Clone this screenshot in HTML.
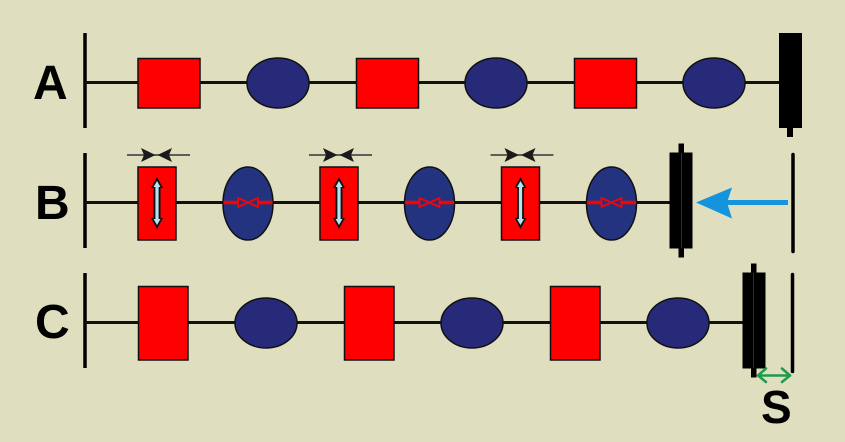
<!DOCTYPE html>
<html><head><meta charset="utf-8"><style>
html,body{margin:0;padding:0;background:#dfdfc0;}
svg{display:block;}
text{font-family:"Liberation Sans",sans-serif;font-weight:bold;fill:#000;}
</style></head><body>
<svg width="845" height="442" viewBox="0 0 845 442" xmlns="http://www.w3.org/2000/svg">
<defs>
<g id="rb1">
<line x1="-11" y1="155" x2="52" y2="155" stroke="#333" stroke-width="1.5"/>
<polygon points="3,148 17.5,155 3,162 6,155" fill="#1a1a1a"/>
<polygon points="34,148 19.5,155 34,162 31,155" fill="#1a1a1a"/>
<rect x="0" y="167" width="38" height="73" fill="#ff0000" stroke="#111" stroke-width="1.5"/>
<polygon points="19,177 25,188 22.5,188 22.5,218 25,218 19,229 13,218 15.5,218 15.5,188 13,188" fill="#111"/>
<polygon points="19,181 22.5,187 20.6,187 20.6,219 22.5,219 19,225 15.5,219 17.4,219 17.4,187 15.5,187" fill="#b5e3ef"/>
</g>
<g id="eb">
<ellipse cx="0" cy="203.5" rx="25" ry="36.5" fill="#233380" stroke="#111" stroke-width="1.5"/>
<line x1="-24.5" y1="202.5" x2="-10" y2="202.5" stroke="#ff0000" stroke-width="3.5"/>
<line x1="10" y1="202.5" x2="24.5" y2="202.5" stroke="#ff0000" stroke-width="3.5"/>
<polygon points="-10,198 0,202.5 -10,207" fill="#233380" stroke="#ff0000" stroke-width="1.8" stroke-linejoin="round"/>
<polygon points="10,198 0,202.5 10,207" fill="#233380" stroke="#ff0000" stroke-width="1.8" stroke-linejoin="round"/>
</g>
</defs>
<rect width="845" height="442" fill="#dfdfc0"/>
<!-- Row A -->
<text x="33" y="99" font-size="48">A</text>
<line x1="85" y1="33" x2="85" y2="128" stroke="#000" stroke-width="3.5"/>
<line x1="85" y1="82.5" x2="780" y2="82.5" stroke="#111" stroke-width="3"/>
<g stroke="#111" stroke-width="1.5">
<rect x="138" y="58.5" width="62" height="49.5" fill="#ff0000"/>
<ellipse cx="278" cy="83" rx="31" ry="25" fill="#272a78"/>
<rect x="356.5" y="58.5" width="62" height="49.5" fill="#ff0000"/>
<ellipse cx="496" cy="83" rx="31" ry="25" fill="#272a78"/>
<rect x="574.5" y="58.5" width="62" height="49.5" fill="#ff0000"/>
<ellipse cx="714" cy="83" rx="31" ry="25" fill="#272a78"/>
</g>
<rect x="779" y="33" width="23" height="95" fill="#000"/>
<rect x="787" y="127" width="6" height="10" fill="#000"/>

<!-- Row B -->
<text x="35" y="219" font-size="48">B</text>
<line x1="85" y1="153" x2="85" y2="248" stroke="#000" stroke-width="3.5"/>
<line x1="85" y1="202.5" x2="672" y2="202.5" stroke="#111" stroke-width="3"/>

<use href="#rb1" transform="translate(138,0)"/>
<use href="#rb1" transform="translate(320,0)"/>
<use href="#rb1" transform="translate(501.5,0)"/>

<use href="#eb" transform="translate(248,0)"/>
<use href="#eb" transform="translate(429.5,0)"/>
<use href="#eb" transform="translate(611.5,0)"/>

<rect x="669.5" y="152.5" width="23" height="96" fill="#000"/>
<rect x="678.5" y="143.5" width="5.5" height="114" fill="#000"/>
<line x1="681.5" y1="153" x2="681.5" y2="248" stroke="#3a3a3a" stroke-width="0.8"/>
<rect x="726" y="200" width="62" height="5" fill="#1593dc"/>
<polygon points="696,202.5 732,187.5 727,202.5 732,218.5" fill="#1593dc"/>
<line x1="793" y1="154.5" x2="793" y2="251.5" stroke="#000" stroke-width="3.5" stroke-linecap="round"/>

<!-- Row C -->
<text x="35" y="338" font-size="48">C</text>
<line x1="85" y1="273" x2="85" y2="368" stroke="#000" stroke-width="3.5"/>
<line x1="85" y1="322.5" x2="744" y2="322.5" stroke="#111" stroke-width="3"/>
<g stroke="#111" stroke-width="1.5">
<rect x="138.5" y="286.5" width="49.5" height="73.5" fill="#ff0000"/>
<ellipse cx="266" cy="323" rx="31" ry="25" fill="#272a78"/>
<rect x="344.5" y="286.5" width="49.5" height="73.5" fill="#ff0000"/>
<ellipse cx="472" cy="323" rx="31" ry="25" fill="#272a78"/>
<rect x="550.5" y="286.5" width="49.5" height="73.5" fill="#ff0000"/>
<ellipse cx="678" cy="323" rx="31" ry="25" fill="#272a78"/>
</g>
<rect x="742.5" y="272.5" width="23" height="96" fill="#000"/>
<rect x="751" y="263.5" width="5.5" height="114" fill="#000"/>
<line x1="753.5" y1="273" x2="753.5" y2="368" stroke="#3a3a3a" stroke-width="0.8"/>
<line x1="792.5" y1="274.5" x2="792.5" y2="371.5" stroke="#000" stroke-width="3.5" stroke-linecap="round"/>
<g stroke="#1e9b4a" stroke-width="2.5" fill="none" stroke-linecap="round" stroke-linejoin="round">
<line x1="758" y1="375.5" x2="790" y2="375.5"/>
<polyline points="766,368.5 758,375.5 766,382"/>
<polyline points="782,368.5 790,375.5 782,382"/>
</g>
<text x="761" y="423" font-size="46">S</text>
</svg>
</body></html>
